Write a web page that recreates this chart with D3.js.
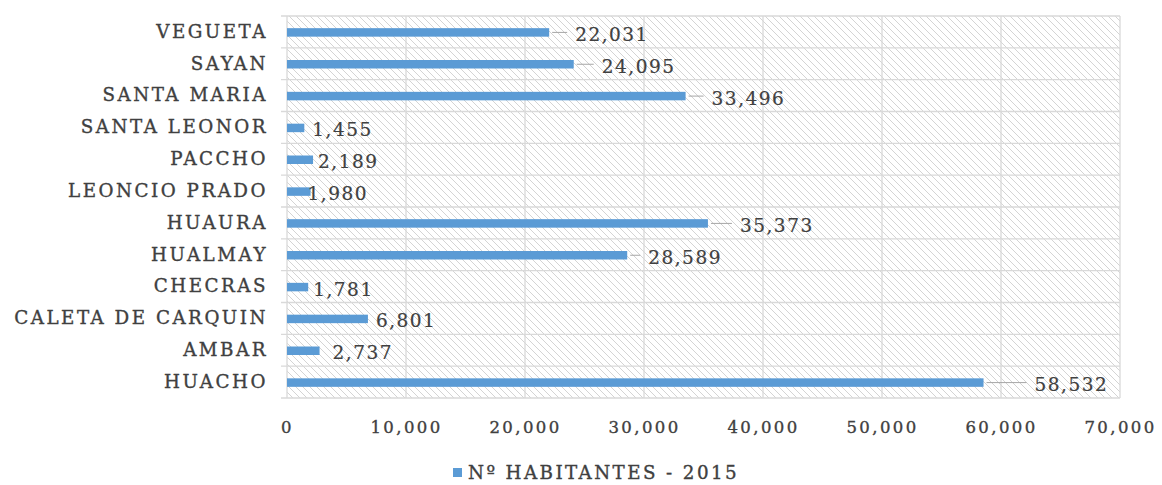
<!DOCTYPE html>
<html>
<head>
<meta charset="utf-8">
<script src="https://cdn.jsdelivr.net/npm/d3@7/dist/d3.min.js"></script>
<style>
  html, body { margin: 0; padding: 0; background: #ffffff; }
  svg { display: block; }
</style>
</head>
<body>
<svg id="chart" width="1162" height="485"></svg>
<script>
// ---- data (top to bottom as drawn) ----
const categories = ["VEGUETA", "SAYAN", "SANTA MARIA", "SANTA LEONOR", "PACCHO", "LEONCIO PRADO",
                    "HUAURA", "HUALMAY", "CHECRAS", "CALETA DE CARQUIN", "AMBAR", "HUACHO"];
const habitantes2015 = [22031, 24095, 33496, 1455, 2189, 1980, 35373, 28589, 1781, 6801, 2737, 58532];
const xTickValues = [0, 10000, 20000, 30000, 40000, 50000, 60000, 70000];
const seriesName = "Nº HABITANTES - 2015";

// ---- layout / style (not data) ----
const labelNudge = [26, 28, 26, 8, 5, -3, 32, 21, 5, 8, 13, 51]; // px gap from bar end to label
const margin = { left: 287, right: 42, top: 16, bottom: 87 };
const W = 1162, H = 485;
const textColor = "#404040";
const barColor = "#5b9bd5";
const gridColor = "#d9d9d9";
const serif = "'DejaVu Serif', 'Liberation Serif', serif";

const svg = d3.select("#chart");
const defs = svg.append("defs");
const pat = defs.append("pattern")
  .attr("id", "hatch").attr("patternUnits", "userSpaceOnUse")
  .attr("width", 7).attr("height", 7);
pat.append("path").attr("d", "M-1,-1 L8,8 M-8,-1 L1,8 M6,-1 L15,8")
  .attr("stroke", "#d4d4d4").attr("stroke-width", 1);

const x = d3.scaleLinear().domain([0, 70000]).range([margin.left, W - margin.right]);
const y = d3.scaleBand().domain(categories).range([margin.top, H - margin.bottom]).paddingInner(0).paddingOuter(0);

// plot background hatch
svg.append("rect")
  .attr("x", x(0)).attr("y", y.range()[0])
  .attr("width", x(70000) - x(0)).attr("height", y.range()[1] - y.range()[0])
  .attr("fill", "url(#hatch)");

// vertical gridlines
svg.append("g").selectAll("line").data(xTickValues).join("line")
  .attr("x1", d => x(d)).attr("x2", d => x(d))
  .attr("y1", y.range()[0]).attr("y2", y.range()[1])
  .attr("stroke", gridColor).attr("stroke-width", 1.3);

// horizontal band boundaries
const bounds = categories.map(c => y(c)).concat([y.range()[1]]);
svg.append("g").selectAll("line").data(bounds).join("line")
  .attr("x1", x(0) - 6).attr("x2", x(70000))
  .attr("y1", d => d).attr("y2", d => d)
  .attr("stroke", gridColor).attr("stroke-width", 1.3);

// common text styling
function styleText(sel, size, spacing) {
  sel.attr("fill", textColor).attr("font-family", serif).attr("font-size", size)
    .attr("letter-spacing", spacing)
    .attr("stroke", textColor).attr("stroke-width", 0.35);
}

// x axis labels
const xAxis = d3.axisBottom(x).tickValues(xTickValues).tickFormat(d3.format(",")).tickSize(0).tickPadding(0);
const gx = svg.append("g").attr("transform", `translate(0,${y.range()[1] + 29})`).call(xAxis);
gx.select(".domain").remove();
gx.selectAll("text").call(styleText, 16.5, 2.4).attr("dy", "0.35em");

// y axis labels
const yAxis = d3.axisLeft(y).tickSize(0).tickPadding(19);
const gy = svg.append("g").attr("transform", `translate(${x(0)},0)`).call(yAxis);
gy.select(".domain").remove();
gy.selectAll("text").call(styleText, 18.3, 2.5);

// bars
const barH = 8.5;
svg.append("g").selectAll("rect").data(categories).join("rect")
  .attr("x", x(0))
  .attr("y", (c) => y(c) + y.bandwidth() / 2 - barH / 2 + 0.5)
  .attr("width", (c, i) => x(habitantes2015[i]) - x(0))
  .attr("height", barH)
  .attr("fill", barColor);

// leader lines + labels
const fmt = d3.format(",");
const lab = svg.append("g");
categories.forEach((c, i) => {
  const v = habitantes2015[i];
  const bx = x(v);
  const cy = y(c) + y.bandwidth() / 2 + 0.5;
  const gap = labelNudge[i];
  if (gap > 15) {
    lab.append("line")
      .attr("x1", bx + 3).attr("x2", bx + gap - 8)
      .attr("y1", cy).attr("y2", cy)
      .attr("stroke", "#a6a6a6").attr("stroke-width", 1);
  }
  lab.append("text")
    .attr("x", bx + gap).attr("y", cy + 2)
    .attr("dy", "0.35em")
    .call(styleText, 18.5, 1.5)
    .attr("stroke-width", 0.2)
    .text(fmt(v));
});

// legend
const lg = svg.append("g").attr("transform", `translate(453,${H - 12})`);
lg.append("rect").attr("x", 0).attr("y", -5).attr("width", 9).attr("height", 9).attr("fill", barColor);
lg.append("text").attr("x", 15).attr("y", 0).attr("dy", "0.35em")
  .call(styleText, 18.3, 2.4).text(seriesName);
</script>
</body>
</html>
